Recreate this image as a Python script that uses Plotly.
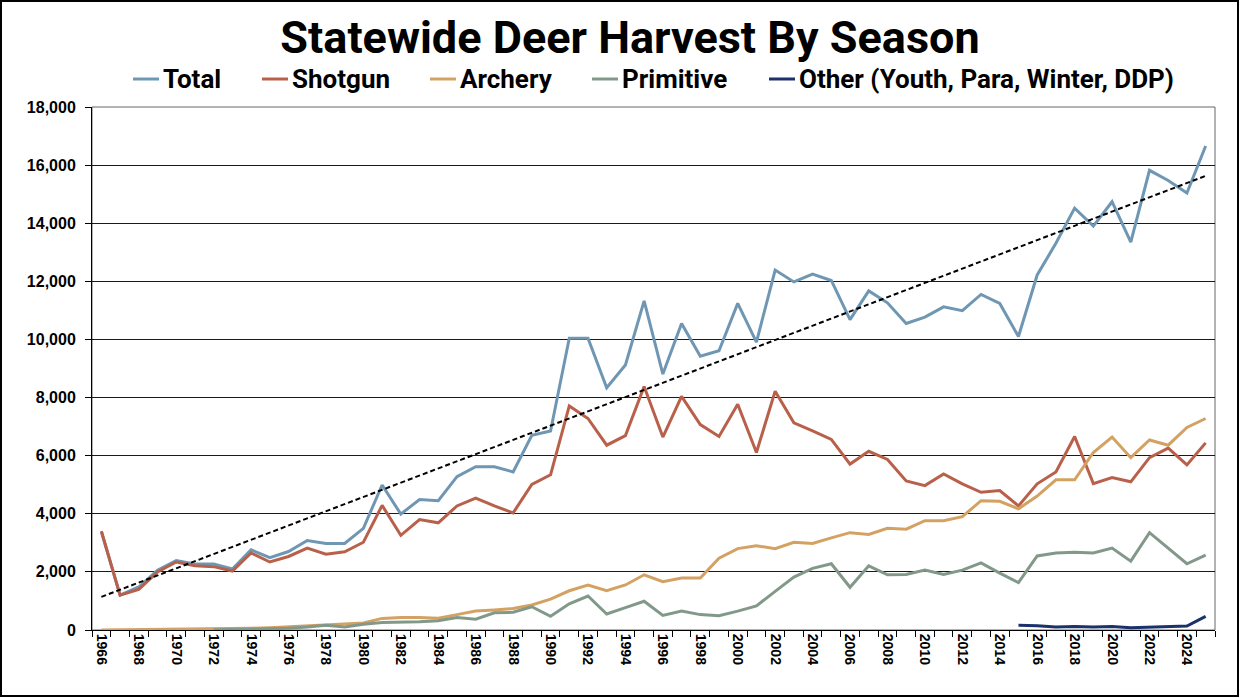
import numpy as np
import plotly.graph_objects as go

years = list(range(1966, 2026))

total = [3390, 1200, 1480, 2060, 2390, 2270, 2270, 2100, 2760, 2490,
         2700, 3080, 2980, 2980, 3500, 4990, 3990, 4490, 4450, 5280,
         5620, 5620, 5440, 6700, 6850, 10040, 10040, 8340, 9120, 11330,
         8810, 10550, 9420, 9610, 11240, 9910, 12390, 11980, 12250, 12030,
         10680, 11670, 11260, 10550, 10770, 11120, 10990, 11550, 11240, 10100,
         12220, 13310, 14520, 13900, 14740, 13350, 15820, 15470, 15040, 16660]

shotgun = [3400, 1200, 1400, 2000, 2340, 2210, 2180, 2030, 2650, 2340,
           2530, 2820, 2610, 2690, 3020, 4290, 3260, 3800, 3690, 4270,
           4540, 4270, 4030, 5010, 5340, 7710, 7280, 6360, 6690, 8380,
           6640, 8040, 7070, 6660, 7770, 6110, 8220, 7130, 6850, 6560,
           5710, 6150, 5870, 5130, 4970, 5370, 5030, 4740, 4800, 4270,
           5030, 5440, 6660, 5040, 5250, 5100, 5930, 6260, 5680, 6440]

archery = [0, 5, 20, 25, 30, 35, 45, 55, 60, 80,
           110, 130, 160, 185, 240, 400, 430, 430, 405, 530,
           650, 690, 740, 860, 1060, 1350, 1550, 1350, 1550, 1900,
           1660, 1790, 1790, 2470, 2800, 2900, 2800, 3020, 2980, 3170,
           3350, 3290, 3500, 3470, 3760, 3760, 3900, 4450, 4430, 4170,
           4610, 5170, 5170, 6110, 6640, 5930, 6540, 6360, 6970, 7280]

primitive = [None, None, None, None, None, None, 10, 20, 30, 40,
             60, 100, 160, 100, 200, 260, 260, 280, 320, 430,
             370, 590, 610, 800, 470, 900, 1170, 550, 770, 990,
             500, 650, 530, 490, 650, 830, 1330, 1820, 2120, 2280,
             1470, 2210, 1900, 1910, 2060, 1910, 2060, 2310, 1960, 1630,
             2550, 2650, 2680, 2650, 2820, 2370, 3350, 2830, 2280, 2580]

other = [None] * 49 + [160, 150, 100, 120, 100, 120, 75, 100, 135, 135, 470]

series_names = ["Total", "Shotgun", "Archery", "Primitive",
                "Other (Youth, Para, Winter, DDP)"]
series_values = [total, shotgun, archery, primitive, other]
series_colors = ["#6f97b3", "#b8604a", "#d3a263", "#82998a", "#1c316b"]

W, H = 1240, 698
L, R, T, B = 92, 25, 107, 68
pw, ph = W - L - R, H - T - B


def px_x(p):
    return (p - L) / pw


def px_y(p):
    return (H - B - p) / ph


fig = go.Figure()
for name, vals, color in zip(series_names, series_values, series_colors):
    fig.add_trace(go.Scatter(x=years, y=vals, name=name, mode="lines",
                             line=dict(color=color, width=3),
                             connectgaps=False, showlegend=False))

# linear trendline of Total
coef = np.polyfit(np.array(years, dtype=float), np.array(total, dtype=float), 1)
trend = np.polyval(coef, np.array(years, dtype=float))
fig.add_trace(go.Scatter(x=years, y=trend, mode="lines", showlegend=False,
                         line=dict(color="black", width=2, dash="5px,3px"),
                         hoverinfo="skip"))

# legend drawn as line samples + text (pixel starts of each entry)
legend_starts = [133, 262, 430, 592, 769]
legend_y = 79
shapes = [
    dict(type="rect", xref="paper", yref="paper", x0=0, x1=1, y0=0, y1=1,
         line=dict(color="#666666", width=1), layer="below"),
    dict(type="rect", xref="paper", yref="paper",
         x0=px_x(1), x1=px_x(W - 2), y0=px_y(H - 2), y1=px_y(1),
         line=dict(color="black", width=2), layer="above"),
]
annotations = []
for name, color, sx in zip(series_names, series_colors, legend_starts):
    shapes.append(dict(type="line", xref="paper", yref="paper",
                       x0=px_x(sx), x1=px_x(sx + 26),
                       y0=px_y(legend_y), y1=px_y(legend_y),
                       line=dict(color=color, width=3)))
    annotations.append(dict(text=name, xref="paper", yref="paper",
                            x=px_x(sx + 28), y=px_y(legend_y),
                            xanchor="left", yanchor="middle", showarrow=False,
                            font=dict(family="Roboto", size=26, color="black",
                                      weight="bold")))

even_years = [y for y in years if y % 2 == 0]

fig.update_layout(
    width=W, height=H,
    margin=dict(l=L, r=R, t=T, b=B),
    paper_bgcolor="white", plot_bgcolor="white",
    title=dict(text="Statewide Deer Harvest By Season",
               font=dict(family="Roboto", size=45, color="black", weight="bold"),
               x=630 / W, xanchor="center", xref="container",
               y=1 - 37 / H, yanchor="middle", yref="container"),
    xaxis=dict(range=[1965.5, 2025.5], tickvals=even_years,
               ticktext=[str(y) for y in even_years], tickangle=90,
               ticks="", showgrid=False, showline=True, linecolor="black",
               linewidth=1, zeroline=False,
               tickfont=dict(family="Liberation Sans", size=14, color="black", weight="bold"),
               minor=dict(tick0=1965.5, dtick=1, ticks="outside", ticklen=6,
                          tickcolor="black", showgrid=False)),
    yaxis=dict(range=[0, 18000], dtick=2000, tickformat=",",
               ticks="outside", ticklen=6, tickcolor="black",
               showline=True, linecolor="black", linewidth=1,
               showgrid=True, gridcolor="#1a1a1a", gridwidth=1, zeroline=False,
               ticklabelstandoff=6,
               tickfont=dict(family="Liberation Sans", size=16, color="black", weight="bold")),
    shapes=shapes,
    annotations=annotations,
    showlegend=False,
)

fig.write_html("out.html")
